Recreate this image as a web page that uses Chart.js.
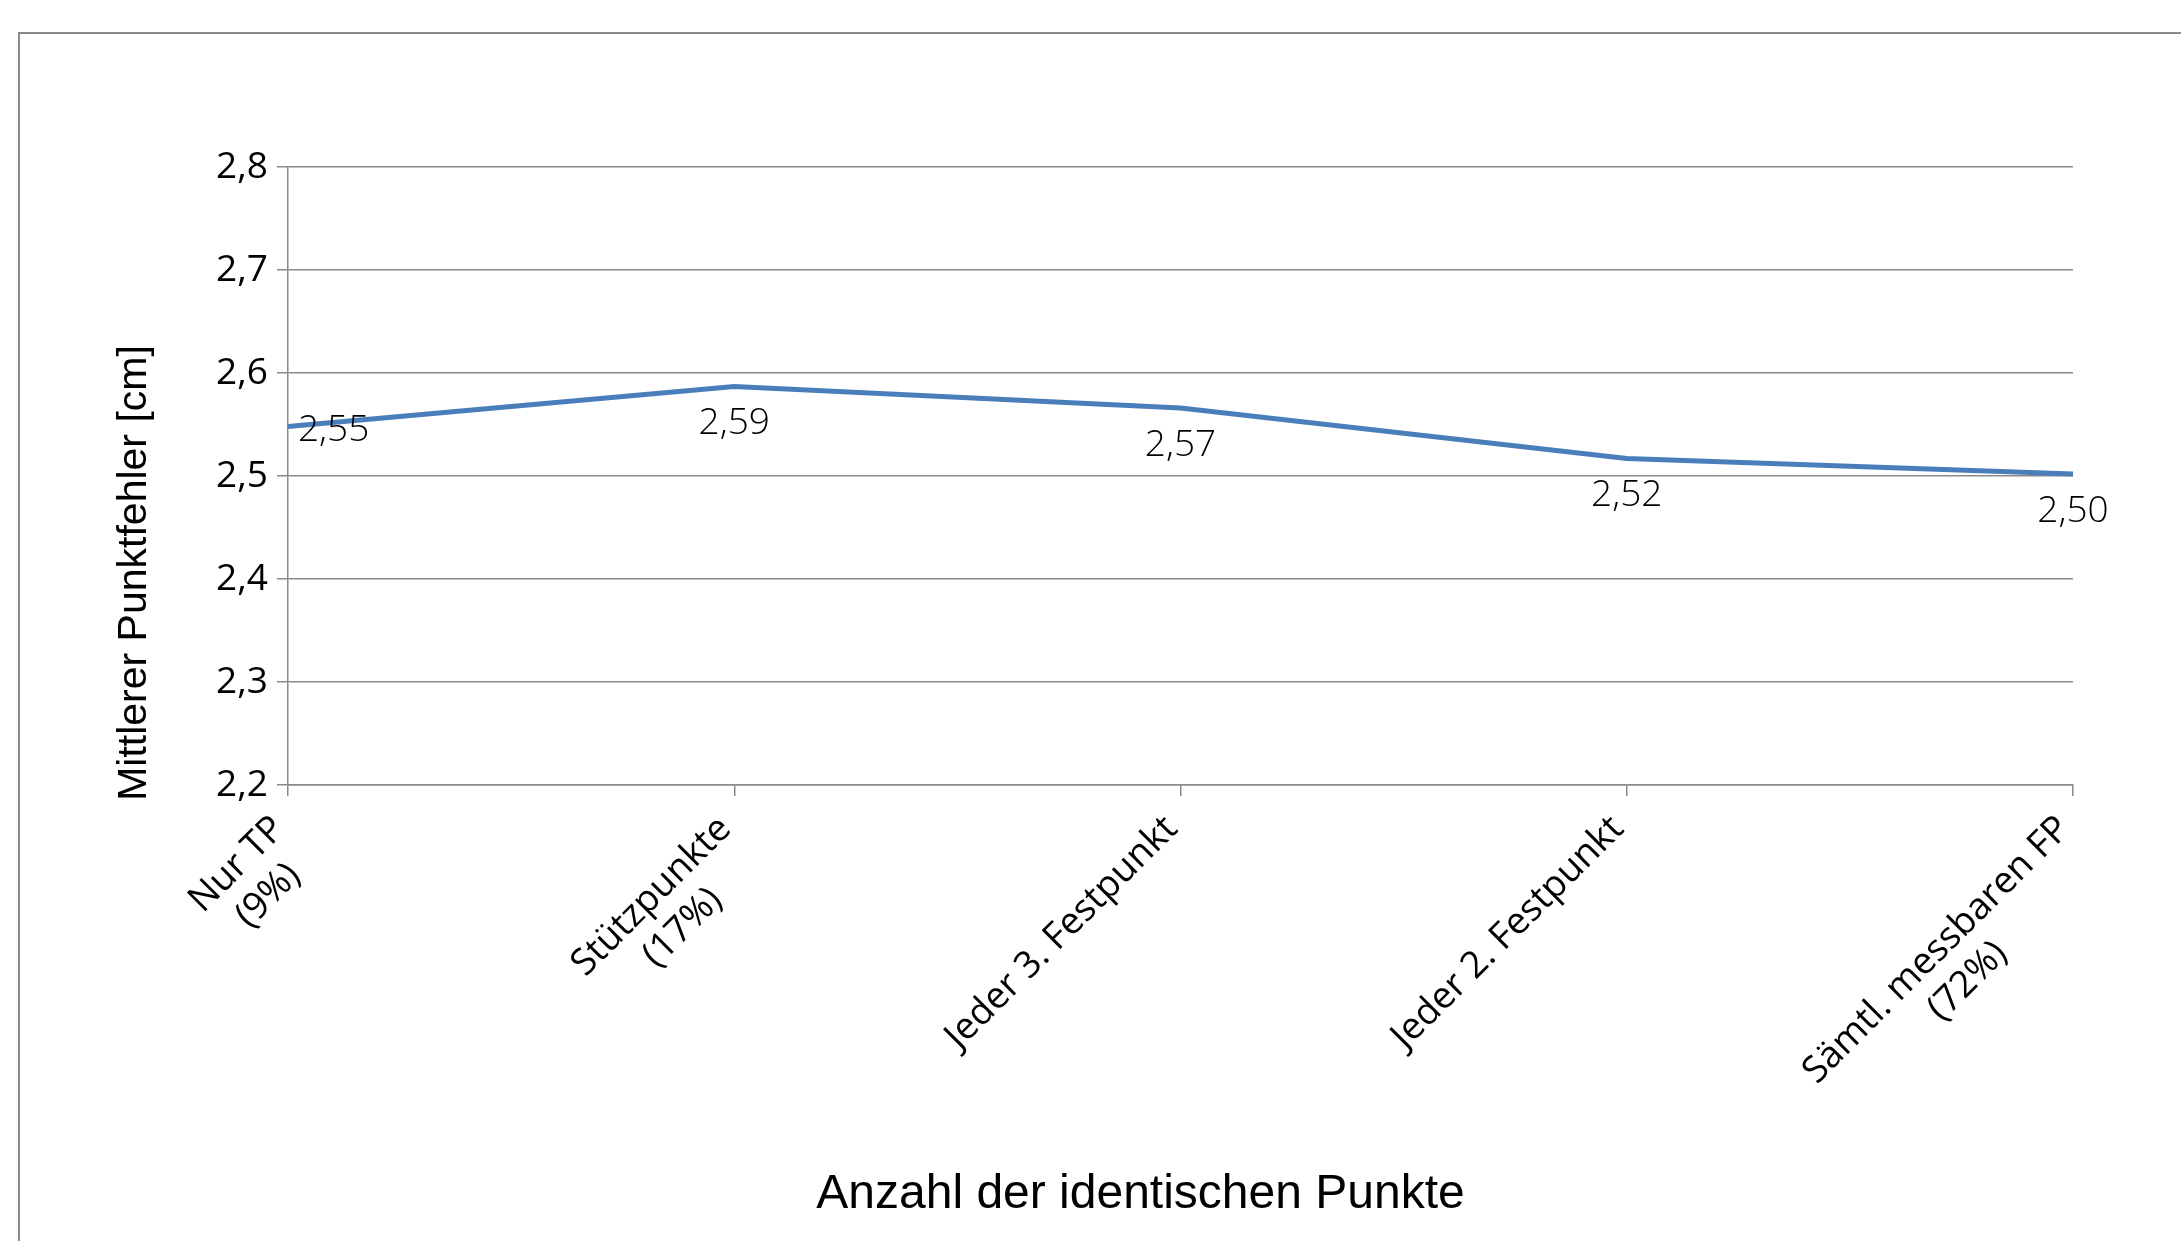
<!DOCTYPE html>
<html>
<head>
<meta charset="utf-8">
<script src="https://cdn.jsdelivr.net/npm/chart.js@4.4.1/dist/chart.umd.min.js"></script>
<style>
  html, body { margin: 0; padding: 0; background: #fff; overflow: hidden; }
  #wrap { width: 2181px; height: 1241px; position: relative; }
</style>
</head>
<body>
<div id="wrap"><canvas id="myChart"></canvas></div>
<script>
// Kategorien (x-Achse)
const categories = [
    ['Nur TP', '(9%)'],
    ['Stützpunkte', '(17%)'],
    'Jeder 3. Festpunkt',
    'Jeder 2. Festpunkt',
    ['Sämtl. messbaren FP', '(72%)']
];
// Mittlerer Punktfehler in cm
const punktfehler = [2.548, 2.587, 2.566, 2.517, 2.502];
// y-Achse
const yMin = 2.2;
const yMax = 2.8;
const yStep = 0.1;
const xTitle = 'Anzahl der identischen Punkte';
const yTitle = 'Mittlerer Punktfehler [cm]';

const gridColor = '#8a8a8a';
const lineColor = '#4a7ebb';

function komma(v, digits) {
    return v.toFixed(digits).replace('.', ',');
}

// Rahmen um das Diagramm
const framePlugin = {
    id: 'frame',
    beforeDraw(chart) {
        const ctx = chart.ctx;
        ctx.save();
        ctx.strokeStyle = '#8a8a8a';
        ctx.lineWidth = 2;
        ctx.strokeRect(19, 33, 2400, 1400);
        ctx.restore();
    }
};

// x-Beschriftungen wie in Excel: 45° gedreht, Zeilen zentriert
const xLabelPlugin = {
    id: 'xlabels',
    afterDraw(chart) {
        const ctx = chart.ctx;
        const xs = chart.scales.x;
        const lh = 44;
        ctx.save();
        ctx.fillStyle = '#000';
        ctx.font = '37px "Open Sans"';
        ctx.textBaseline = 'middle';
        ctx.textAlign = 'center';
        categories.forEach((cat, i) => {
            const lines = Array.isArray(cat) ? cat : [cat];
            const maxW = Math.max(...lines.map(l => ctx.measureText(l).width));
            ctx.save();
            ctx.translate(xs.getPixelForTick(i) - 9, xs.top + 38);
            ctx.rotate(-Math.PI / 4);
            lines.forEach((l, j) => {
                ctx.fillText(l, -maxW / 2, j * lh);
            });
            ctx.restore();
        });
        ctx.restore();
    }
};

// Datenbeschriftungen + Achsentitel
const labelPlugin = {
    id: 'labels',
    afterDatasetsDraw(chart) {
        const ctx = chart.ctx;
        const meta = chart.getDatasetMeta(0);
        ctx.save();
        ctx.fillStyle = '#000';
        ctx.font = '300 37px "Open Sans"';
        ctx.textBaseline = 'alphabetic';
        meta.data.forEach((pt, i) => {
            const txt = komma(punktfehler[i], 2);
            if (i === 0) {
                ctx.textAlign = 'left';
                ctx.fillText(txt, pt.x + 10, pt.y + 14);
            } else {
                ctx.textAlign = 'center';
                ctx.fillText(txt, pt.x, pt.y + 48);
            }
        });

        const area = chart.chartArea;
        // x title
        ctx.font = '48px "Liberation Sans"';
        ctx.textAlign = 'center';
        ctx.fillText(xTitle, (area.left + area.right) / 2 - 40, 1208);
        // y title
        ctx.font = '41px "Liberation Sans"';
        ctx.translate(146, 573);
        ctx.rotate(-Math.PI / 2);
        ctx.fillText(yTitle, 0, 0);
        ctx.restore();
    }
};

const ctx = document.getElementById('myChart');
new Chart(ctx, {
    type: 'line',
    data: {
        labels: categories,
        datasets: [{
            label: yTitle,
            data: punktfehler,
            borderColor: lineColor,
            backgroundColor: lineColor,
            borderWidth: 5,
            pointRadius: 0,
            tension: 0
        }]
    },
    options: {
        responsive: true,
        maintainAspectRatio: false,
        animation: false,
        layout: {
            padding: { top: 167, right: 108, left: 0, bottom: 0 }
        },
        scales: {
            x: {
                offset: false,
                afterFit(scale) { scale.height = 456; },
                grid: {
                    drawOnChartArea: false,
                    drawTicks: true,
                    tickLength: 11,
                    color: gridColor,
                    lineWidth: 1.5
                },
                border: { color: gridColor, width: 1.5 },
                ticks: {
                    display: false,
                    autoSkip: false
                }
            },
            y: {
                min: yMin,
                max: yMax,
                afterFit(scale) { scale.width = 288; },
                grid: {
                    tickLength: 11,
                    color: gridColor,
                    lineWidth: 1.5
                },
                border: { color: gridColor, width: 1.5 },
                ticks: {
                    stepSize: yStep,
                    padding: 9,
                    color: '#000',
                    font: { family: 'Open Sans', size: 37 },
                    callback: v => komma(v, 1)
                }
            }
        },
        plugins: {
            legend: { display: false },
            tooltip: { enabled: false }
        }
    },
    plugins: [framePlugin, xLabelPlugin, labelPlugin]
});
</script>
</body>
</html>
